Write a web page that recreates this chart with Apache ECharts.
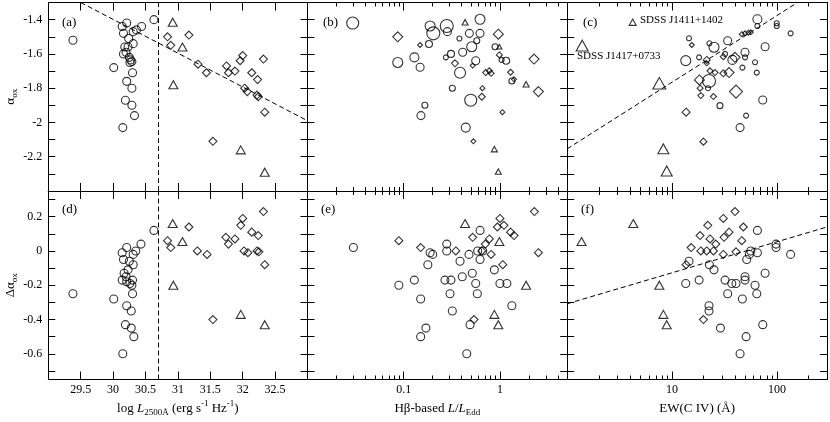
<!DOCTYPE html>
<html>
<head>
<meta charset="utf-8">
<script src="https://cdn.jsdelivr.net/npm/echarts/dist/echarts.min.js"></script>
<style>
  html, body { margin: 0; background: #fff; }
  #chart { width: 830px; height: 422px; }
</style>
</head>
<body>
<div id="chart"></div>
<script>
// ---- panel (a): alpha_ox vs log L2500 ----
const aCircles = [[29.38,-1.52],[30.01,-1.68],[30.15,-2.03],[30.14,-1.44],[30.16,-1.48],[30.21,-1.42],[30.24,-1.51],
  [30.18,-1.56],[30.23,-1.56],[30.31,-1.47],[30.36,-1.46],[30.44,-1.44],[30.31,-1.54],[30.63,-1.40],[30.16,-1.60],
  [30.20,-1.59],[30.25,-1.62],[30.27,-1.635],[30.29,-1.645],[30.26,-1.65],[30.30,-1.71],[30.21,-1.76],[30.29,-1.80],
  [30.19,-1.87],[30.29,-1.90],[30.33,-1.96]];
const aDiamonds = [[30.84,-1.50],[30.89,-1.55],[31.17,-1.49],[31.31,-1.66],[31.44,-1.71],[31.75,-1.67],[31.78,-1.71],
  [31.88,-1.70],[31.96,-1.64],[32.00,-1.61],[32.14,-1.71],[32.23,-1.75],[32.32,-1.63],[32.03,-1.80],[32.07,-1.82],
  [32.22,-1.84],[32.24,-1.85],[32.34,-1.94],[31.54,-2.11]];
const aTriangles = [[30.92,-1.415],[31.07,-1.56],[30.93,-1.78],[31.97,-2.16],[32.34,-2.29]];
const aFit = [[29.5,-1.30],[33,-1.99]];
const lumCut = 30.7;

// ---- panel (b): alpha_ox vs L/LEdd, third value = marker scale ----
const bCircles = [[0.0295,-1.42,12],[0.188,-1.437,10],[0.203,-1.48,13],[0.280,-1.437,13],[0.284,-1.47,8],[0.621,-1.398,10],
  [0.481,-1.48,8],[0.621,-1.48,8],[0.379,-1.51,5],[0.574,-1.523,6],[0.183,-1.542,7],[0.509,-1.558,10],[0.410,-1.59,8],
  [0.310,-1.60,7],[0.274,-1.62,5],[0.129,-1.62,9],[0.0867,-1.65,10],[0.148,-1.678,8],[0.560,-1.64,8],[0.385,-1.71,11],
  [0.889,-1.558,6],[1.04,-1.635,5],[1.16,-1.64,7],[1.33,-1.758,6],[0.320,-1.80,6],[0.497,-1.87,12],[0.166,-1.90,6],
  [0.151,-1.96,8],[0.441,-2.03,9]];
const bDiamonds = [[0.0867,-1.50,10],[0.148,-1.548,5],[0.341,-1.655,7],[0.521,-1.668,5],[0.712,-1.709,6],[0.776,-1.699,6],
  [0.809,-1.713,6],[0.962,-1.485,10],[0.986,-1.606,6],[1.29,-1.707,6],[1.40,-1.748,5],[2.26,-1.63,10],[2.51,-1.82,10],
  [0.657,-1.80,5],[0.648,-1.85,7],[1.06,-1.94,5],[0.530,-2.11,5]];
const bTriangles = [[0.434,-1.415,6],[0.986,-1.558,5],[1.87,-1.777,6],[0.875,-2.156,6],[0.962,-2.287,6]];

// ---- panel (c): alpha_ox vs EW(C IV) ----
const cCircles = [[65.1,-1.398,9],[65.1,-1.437,5],[99.5,-1.421,5],[99.5,-1.437,5],[135,-1.48,5],[14.5,-1.509,5],[22.7,-1.538,5],
  [25.1,-1.561,10],[33.9,-1.523,8],[77.1,-1.558,8],[49.6,-1.59,8],[13.5,-1.639,10],[18.1,-1.62,5],[32.0,-1.60,5],
  [37.6,-1.635,9],[49.6,-1.62,5],[61.8,-1.649,5],[46.8,-1.68,5],[64.2,-1.709,5],[22.5,-1.758,13],[22.0,-1.80,5],
  [28.6,-1.902,6],[50.8,-1.96,5],[44.5,-2.03,8],[73.2,-1.869,8]];
const cDiamonds = [[15.4,-1.548,5],[21.4,-1.635,7],[21.4,-1.655,5],[23.0,-1.699,6],[25.7,-1.709,6],[30.8,-1.616,6],
  [30.8,-1.713,7],[34.9,-1.709,10],[39.8,-1.62,10],[18.2,-1.752,10],[18.5,-1.80,6],[18.8,-1.843,6],[24.8,-1.849,6],
  [40.7,-1.82,13],[13.6,-1.94,8],[19.9,-2.112,7],[46.2,-1.485,5],[49.6,-1.48,5],[53.4,-1.476,5],[56.3,-1.474,5]];
const cTriangles = [[4.21,-1.415,7],[1.39,-1.552,12],[7.56,-1.771,13],[8.26,-2.154,11],[8.89,-2.283,11]];
const cFit = [[1,-2.154],[157,-1.30]];

// ---- panel (d): delta alpha_ox vs log L2500 ----
const dCircles = [[29.38,-0.25],[30.01,-0.28],[30.15,-0.60],[30.14,-0.01],[30.16,-0.05],[30.21,0.02],[30.25,-0.06],
  [30.31,-0.02],[30.35,0.0],[30.43,0.04],[30.63,0.12],[30.31,-0.08],[30.17,-0.13],[30.20,-0.15],[30.23,-0.11],
  [30.14,-0.17],[30.21,-0.18],[30.26,-0.19],[30.29,-0.20],[30.30,-0.17],[30.30,-0.25],[30.21,-0.32],[30.28,-0.35],
  [30.19,-0.43],[30.28,-0.45],[30.32,-0.50]];
const dDiamonds = [[30.84,0.06],[30.89,0.02],[31.17,0.14],[31.30,0.0],[31.45,-0.02],[31.54,-0.40],[31.74,0.08],[31.78,0.04],
  [31.88,0.07],[31.97,0.15],[32.00,0.19],[32.02,0.0],[32.08,-0.01],[32.14,0.11],[32.24,0.09],[32.22,0.0],[32.25,-0.005],
  [32.32,0.23],[32.34,-0.08]];
const dTriangles = [[30.92,0.16],[31.07,0.055],[30.93,-0.20],[31.97,-0.37],[32.34,-0.43]];

// ---- panel (e): delta alpha_ox vs L/LEdd ----
const eCircles = [[0.030,0.02],[0.089,-0.20],[0.129,-0.17],[0.150,-0.28],[0.150,-0.50],[0.170,-0.45],[0.178,-0.08],
  [0.188,-0.01],[0.200,-0.02],[0.280,0.04],[0.280,0.0],[0.268,-0.17],[0.310,-0.17],[0.303,-0.25],[0.320,-0.35],
  [0.385,-0.06],[0.406,-0.15],[0.452,-0.60],[0.477,-0.02],[0.489,-0.43],[0.516,-0.13],[0.560,-0.19],[0.582,-0.25],
  [0.587,0.0],[0.621,0.12],[0.621,-0.05],[0.662,0.0],[0.875,-0.11],[1.00,-0.19],[1.18,-0.19],[1.33,-0.32]];
const eDiamonds = [[0.089,0.06],[0.150,0.02],[0.348,0.0],[0.521,0.08],[0.648,0.0],[0.705,0.04],[0.776,0.07],[0.809,-0.02],
  [0.940,0.14],[1.00,0.19],[1.10,0.15],[1.07,-0.08],[1.29,0.11],[1.40,0.09],[2.28,0.23],[2.51,-0.01],[0.538,-0.40]];
const eTriangles = [[0.434,0.16],[0.986,0.055],[1.87,-0.20],[0.875,-0.37],[0.962,-0.43]];

// ---- panel (f): delta alpha_ox vs EW(C IV) ----
const fCircles = [[14.5,-0.06],[13.5,-0.19],[18.1,-0.17],[22.7,-0.08],[25.1,-0.11],[22.5,-0.32],[22.5,-0.35],[28.9,-0.45],
  [32.0,-0.17],[33.9,-0.25],[37.1,-0.19],[40.7,-0.19],[44.5,-0.60],[46.8,-0.28],[49.6,-0.15],[49.6,-0.17],[51.5,-0.05],
  [50.8,-0.50],[54.6,-0.02],[56.3,0.0],[61.8,-0.20],[65.1,-0.01],[65.1,0.12],[64.2,-0.25],[73.2,-0.43],[77.1,-0.13],
  [98,0.04],[98,0.02],[135,-0.02]];
const fDiamonds = [[13.6,-0.08],[15.2,0.02],[18.5,0.09],[18.8,0.0],[21.4,0.0],[21.9,0.15],[23.0,0.07],[24.8,0.0],[26.1,0.04],
  [30.8,0.19],[30.8,-0.02],[31.3,0.08],[34.9,0.11],[39.8,0.23],[40.7,-0.005],[46.2,0.06],[47.8,0.14],[19.9,-0.40]];
const fTriangles = [[1.37,0.055],[4.27,0.16],[7.56,-0.20],[8.26,-0.37],[8.89,-0.43]];
const fFit = [[1,-0.308],[300,0.14]];

// ---- ticks / labels ----
const lumTicks = [29.5, 30, 30.5, 31, 31.5, 32, 32.5];
const eddMajor = [0.1, 1];
const eddMinor = [0.02,0.03,0.04,0.05,0.06,0.07,0.08,0.09,0.2,0.3,0.4,0.5,0.6,0.7,0.8,0.9,2,3,4];
const ewMajor = [10, 100];
const ewMinor = [2,3,4,5,6,7,8,9,20,30,40,50,60,70,80,90,200];
const aoxTicks = [-2.3,-2.2,-2.1,-2.0,-1.9,-1.8,-1.7,-1.6,-1.5,-1.4];
const aoxLabels = [-2.2,-2,-1.8,-1.6,-1.4];
const daoxTicks = [-0.7,-0.6,-0.5,-0.4,-0.3,-0.2,-0.1,0,0.1,0.2,0.3];
const daoxLabels = [-0.6,-0.4,-0.2,0,0.2];

const FONT = '"Liberation Serif", "Times New Roman", serif';
const EDGE_X = [48.3, 307.5, 567.2, 827];
const EDGE_Y = [2.5, 191, 379.5];

const richName = {
  t: { fontFamily: FONT, fontSize: 13, color: '#000', lineHeight: 18, verticalAlign: 'middle' },
  i: { fontFamily: FONT, fontSize: 13, fontStyle: 'italic', color: '#000', lineHeight: 18, verticalAlign: 'middle' },
  sub: { fontFamily: FONT, fontSize: 9, color: '#000', lineHeight: 9, verticalAlign: 'bottom' },
  sup: { fontFamily: FONT, fontSize: 9, color: '#000', lineHeight: 9, verticalAlign: 'top' }
};

const xCols = [
  { type: 'value', min: 29, max: 33, major: lumTicks, minor: null, labels: lumTicks,
    name: '{t|log }{i|L}{sub|2500Å}{t| (erg s}{sup|-1}{t| Hz}{sup|-1}{t|)}' },
  { type: 'log', min: 0.01, max: 5, major: eddMajor, minor: eddMinor, labels: eddMajor,
    name: '{t|Hβ-based }{i|L}{t|/}{i|L}{sub|Edd}' },
  { type: 'log', min: 1, max: 300, major: ewMajor, minor: ewMinor, labels: ewMajor,
    name: '{t|EW(C IV) (Å)}' }
];
const yRows = [
  { min: -2.4, max: -1.3, ticks: aoxTicks, labels: aoxLabels, name: '{t|α}{sub|ox}' },
  { min: -0.75, max: 0.35, ticks: daoxTicks, labels: daoxLabels, name: '{t|Δα}{sub|ox}' }
];

const grid = [], xAxis = [], yAxis = [], xMain = [], yMain = [];
const line = { show: true, onZero: false, lineStyle: { color: '#000', width: 1 } };

for (let r = 0; r < 2; r++) {
  for (let c = 0; c < 3; c++) {
    const g = grid.length;
    grid.push({ left: EDGE_X[c], top: EDGE_Y[r], width: EDGE_X[c + 1] - EDGE_X[c], height: EDGE_Y[r + 1] - EDGE_Y[r] });
    const xc = xCols[c], yr = yRows[r];
    const mkX = (pos, vals, len, withLabel) => {
      const ax = {
        gridIndex: g, type: xc.type, min: xc.min, max: xc.max, position: pos,
        axisLine: line, splitLine: { show: false },
        axisTick: { show: true, inside: true, length: len, customValues: vals, lineStyle: { color: '#000' } },
        axisLabel: { show: false }
      };
      if (xc.type === 'log') ax.logBase = 10;
      if (withLabel) {
        ax.axisLabel = { show: true, customValues: xc.labels, margin: 4, color: '#000', fontFamily: FONT, fontSize: 12 };
        ax.name = xc.name;
        ax.nameLocation = 'middle';
        ax.nameGap = 20;
        ax.nameTextStyle = { rich: richName };
      }
      xAxis.push(ax);
      return xAxis.length - 1;
    };
    xMain[g] = mkX('bottom', xc.major, 8, r === 1);
    mkX('top', xc.major, 8, false);
    if (xc.minor) { mkX('bottom', xc.minor, 4, false); mkX('top', xc.minor, 4, false); }

    const mkY = (pos, withLabel) => {
      const ax = {
        gridIndex: g, type: 'value', min: yr.min, max: yr.max, position: pos,
        axisLine: line, splitLine: { show: false },
        axisTick: { show: true, inside: true, length: 7, customValues: yr.ticks, lineStyle: { color: '#000' } },
        axisLabel: { show: false }
      };
      if (withLabel) {
        ax.axisLabel = { show: true, customValues: yr.labels, margin: 6, color: '#000', fontFamily: FONT, fontSize: 12 };
        ax.name = yr.name;
        ax.nameLocation = 'middle';
        ax.nameGap = 28;
        ax.nameTextStyle = { rich: richName };
      }
      yAxis.push(ax);
      return yAxis.length - 1;
    };
    yMain[g] = mkY('left', c === 0);
    mkY('right', false);
  }
}

const hollow = { color: 'rgba(0,0,0,0)', borderColor: '#000', borderWidth: 1.1 };
function pts(g, data, symbol, size) {
  return {
    type: 'scatter', xAxisIndex: xMain[g], yAxisIndex: yMain[g], data: data, symbol: symbol,
    symbolSize: size, itemStyle: hollow, silent: true, clip: false, emphasis: { disabled: true }
  };
}
function scaled(d) { return d[2]; }
function scaledTri(d) { return [d[2], d[2] * 0.9]; }
function fit(g, data) {
  return {
    type: 'line', xAxisIndex: xMain[g], yAxisIndex: yMain[g], data: data, symbol: 'none', silent: true,
    lineStyle: { color: '#000', width: 1, type: [5, 3] }
  };
}
function cut(g) {
  return {
    type: 'line', xAxisIndex: xMain[g], yAxisIndex: yMain[g], data: [], silent: true,
    markLine: { silent: true, symbol: 'none', label: { show: false },
      lineStyle: { color: '#000', width: 1, type: [5, 3] }, data: [{ xAxis: lumCut }] }
  };
}

const series = [
  pts(0, aCircles, 'circle', 8), pts(0, aDiamonds, 'diamond', 8), pts(0, aTriangles, 'triangle', [9, 8]),
  fit(0, aFit), cut(0),
  pts(1, bCircles, 'circle', scaled), pts(1, bDiamonds, 'diamond', scaled), pts(1, bTriangles, 'triangle', scaledTri),
  pts(2, cCircles, 'circle', scaled), pts(2, cDiamonds, 'diamond', scaled), pts(2, cTriangles, 'triangle', scaledTri),
  fit(2, cFit),
  pts(3, dCircles, 'circle', 8), pts(3, dDiamonds, 'diamond', 8), pts(3, dTriangles, 'triangle', [9, 8]), cut(3),
  pts(4, eCircles, 'circle', 8), pts(4, eDiamonds, 'diamond', 8), pts(4, eTriangles, 'triangle', [9, 8]),
  pts(5, fCircles, 'circle', 8), pts(5, fDiamonds, 'diamond', 8), pts(5, fTriangles, 'triangle', [9, 8]),
  fit(5, fFit)
];

const txt = (left, top, text, size) => ({
  type: 'text', left: left, top: top, silent: true,
  style: { text: text, fill: '#000', font: size + 'px ' + FONT }
});
const graphic = [
  txt(62, 16, '(a)', 13), txt(323, 16, '(b)', 13), txt(583, 16, '(c)', 13),
  txt(62, 203, '(d)', 13), txt(321, 203, '(e)', 13), txt(581, 203, '(f)', 13),
  txt(640, 15, 'SDSS J1411+1402', 11), txt(577, 51, 'SDSS J1417+0733', 11)
];

const chart = echarts.init(document.getElementById('chart'));
chart.setOption({
  animation: false,
  backgroundColor: '#fff',
  grid: grid,
  xAxis: xAxis,
  yAxis: yAxis,
  series: series,
  graphic: graphic
});
</script>
</body>
</html>
